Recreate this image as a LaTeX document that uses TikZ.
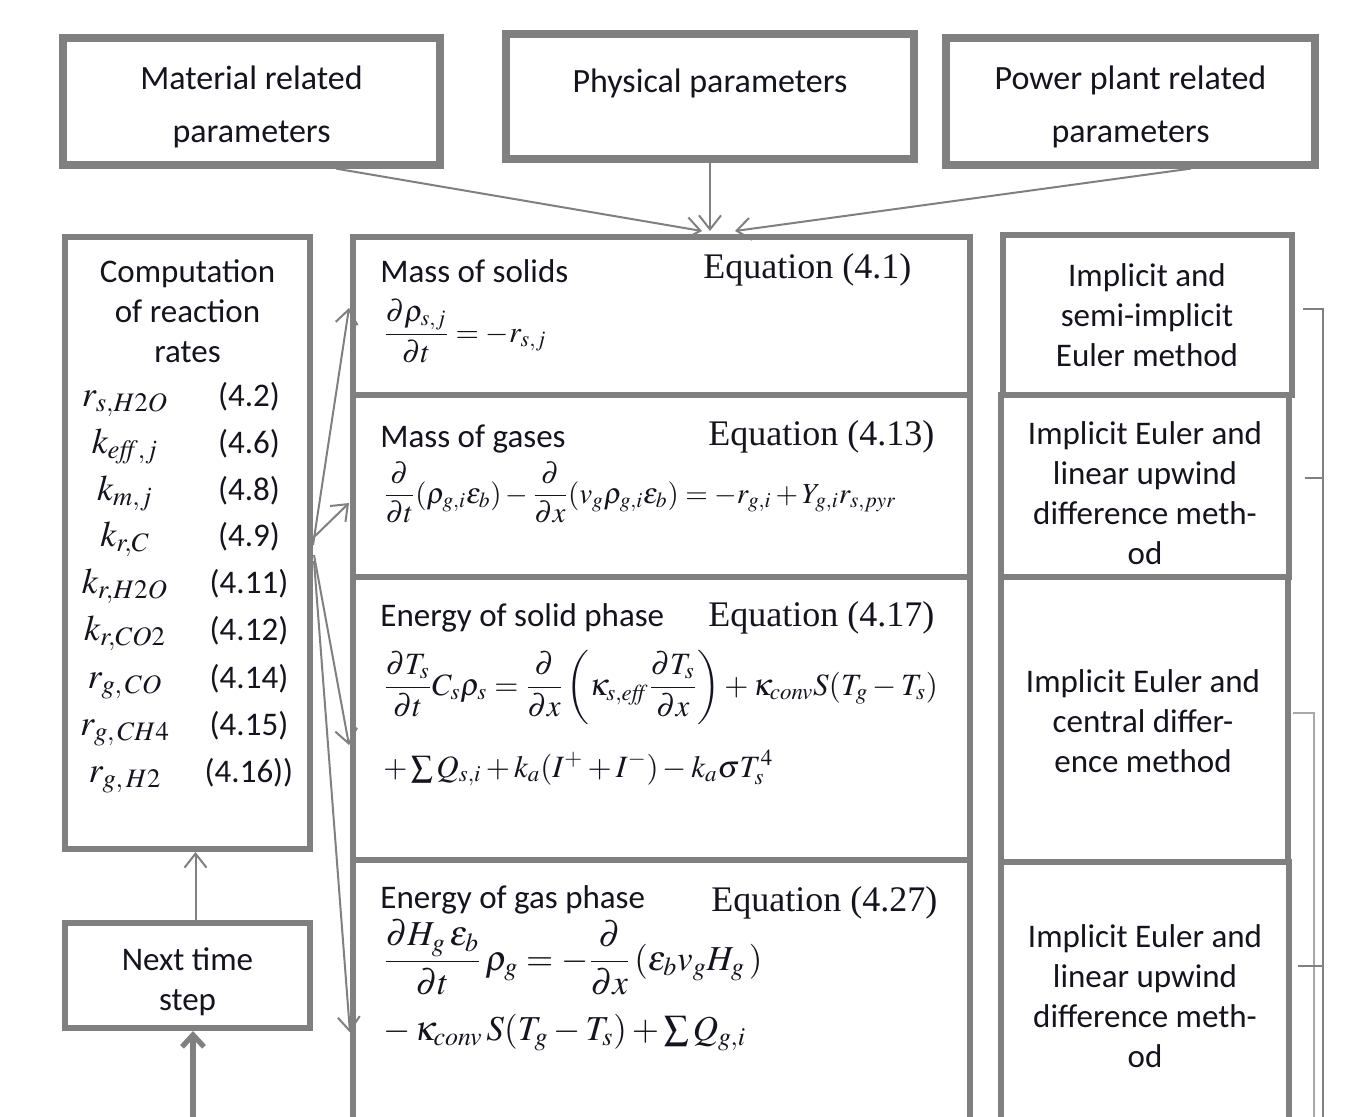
\documentclass[tikz,border=0pt]{standalone}
\usepackage{amsmath}
\usepackage{mathptmx}
\usepackage[no-math]{fontspec}
\setmainfont{Carlito}
\newfontfamily\timesfam{Liberation Serif}
\usetikzlibrary{arrows.meta,calc,fit}
\definecolor{linegray}{RGB}{128,128,128}
\definecolor{lightgray2}{RGB}{168,168,168}
\definecolor{inkc}{RGB}{20,20,30}
\tikzset{
  box/.style={draw=linegray, line width=3pt, fill=white, inner sep=0pt},
  topbox/.style={box, line width=3.6pt},
  lbl/.style={font=\fontsize{16.5}{20}\selectfont, align=center, inner sep=0pt, text=inkc},
  toplbl/.style={font=\fontsize{17}{26.5}\selectfont, align=center, inner sep=0pt, text=inkc},
  eqlbl/.style={font=\timesfam\fontsize{18}{22}\selectfont, inner sep=0pt, anchor=base west, text=inkc},
  eqn/.style={inner sep=0pt, anchor=base west, text=inkc},
  sym/.style={font=\fontsize{18}{20}\selectfont, inner sep=0pt, text=inkc},
  conn/.style={draw=linegray, line width=1pt},
  connlight/.style={draw=lightgray2, line width=1pt},
  arr/.style={conn, -{Straight Barb[length=7pt,width=11pt]}},
  thickarr/.style={draw=linegray, line width=2.6pt, -{Straight Barb[length=6pt,width=11pt]}},
}
\begin{document}
\begin{tikzpicture}[x=0.5pt,y=-0.5pt]
\clip (0,0) rectangle (1345,1116);
\fill[white] (0,0) rectangle (1345,1116);

% top boxes
\node[topbox, fit={(63,38) (440,165)}] (mat) {};
\node[topbox, fit={(506,34) (914,159)}] (phys) {};
\node[topbox, fit={(946,38) (1315,165)}] (pow) {};
\node[toplbl] (matT) at (251.5,106.5) {Material related\\parameters};
\node[toplbl] (phyT) at (710,83) {Physical parameters};
\node[toplbl] (powT) at (1130.5,106.5) {Power plant related\\parameters};

% left column
\node[box, fit={(65,237) (310,849)}] (comp) {};
\node[box, fit={(65,923) (310,1028)}] (next) {};
\node[lbl] (compT) at (187.5,311.5) {Computation\\of reaction\\rates};
\node[lbl] (nextT) at (187.5,981.5) {Next time\\step};
\foreach \s/\n/\y [count=\i] in {
  {$r_{s,H2O}$}/{(4.2)}/406,
  {$k_{\mathit{eff},j}$}/{(4.6)}/453,
  {$k_{m,j}$}/{(4.8)}/500,
  {$k_{r,C}$}/{(4.9)}/546,
  {$k_{r,H2O}$}/{(4.11)}/593,
  {$k_{r,CO2}$}/{(4.12)}/640,
  {$r_{g,\,CO}$}/{(4.14)}/688,
  {$r_{g,\,CH4}$}/{(4.15)}/735,
  {$r_{g,\,H2}$}/{(4.16))}/782}
{
  \node[sym, anchor=base] (sym\i) at (125,\y) {\s};
  \node[lbl, anchor=base] (num\i) at (249,\y) {\n};
}

% middle column
\node[box, fit={(353,237) (970,395)}] (b1) {};
\node[box, fit={(353,395) (970,577)}] (b2) {};
\node[box, fit={(353,577) (970,860)}] (b3) {};
\node[box, fit={(353,860) (970,1140)}] (b4) {};

\node[lbl, anchor=base west] (b1L) at (380,282) {Mass of solids};
\node[eqlbl] (b1E) at (703,278) {Equation (4.1)};
\node[eqn, font=\fontsize{15}{18}\selectfont] (b1Q) at (383,342) {$\dfrac{\partial\rho_{s,j}}{\partial t}=-r_{s,j}$};

\node[lbl, anchor=base west] (b2L) at (380,447) {Mass of gases};
\node[eqlbl] (b2E) at (708,445) {Equation (4.13)};
\node[eqn, font=\fontsize{14.5}{18}\selectfont] (b2Q) at (383,503) {$\dfrac{\partial}{\partial t}(\rho_{g,i}\varepsilon_b)-\dfrac{\partial}{\partial x}(v_g\rho_{g,i}\varepsilon_b)=-r_{g,i}+Y_{g,i}r_{s,pyr}$};

\node[lbl, anchor=base west] (b3L) at (380,626) {Energy of solid phase};
\node[eqlbl] (b3E) at (708,626) {Equation (4.17)};
\node[eqn, font=\fontsize{15.5}{18}\selectfont] (b3Qa) at (383,695) {$\dfrac{\partial T_s}{\partial t}C_s\rho_s=\dfrac{\partial}{\partial x}\left(\kappa_{s,\mathit{eff}}\dfrac{\partial T_s}{\partial x}\right)+\kappa_{\mathit{conv}}S(T_g-T_s)$};
\node[eqn, font=\fontsize{15.5}{18}\selectfont] (b3Qb) at (383,777) {$+\sum Q_{s,i}+k_a(I^+ +I^-)-k_a\sigma T_s^4$};

\node[lbl, anchor=base west] (b4L) at (380,908) {Energy of gas phase};
\node[eqlbl] (b4E) at (711,911) {Equation (4.27)};
\node[eqn, font=\fontsize{17.5}{20}\selectfont] (b4Qa) at (383,970) {$\dfrac{\partial H_g\,\varepsilon_b}{\partial t}\,\rho_g=-\dfrac{\partial}{\partial x}\left(\varepsilon_b v_g H_g\,\right)$};
\node[eqn, font=\fontsize{17.5}{20}\selectfont] (b4Qb) at (383,1040) {$-\,\kappa_{\mathit{conv}}\,S(T_g-T_s)+\sum Q_{g,i}$};

% right column
\node[box, fit={(1003,235) (1292,395)}] (r1) {};
\node[box, fit={(1001,395) (1289,577)}] (r2) {};
\node[box, fit={(1001,577) (1288,862)}] (r3) {};
\node[box, fit={(1001,862) (1289,1140)}] (r4) {};
\node[lbl] (r1T) at (1147,315) {Implicit and\\semi-implicit\\Euler method};
\node[lbl] (r2T) at (1145,493) {Implicit Euler and\\linear upwind\\difference meth-\\od};
\node[lbl] (r3T) at (1143,721) {Implicit Euler and\\central differ-\\ence method};
\node[lbl] (r4T) at (1145,996) {Implicit Euler and\\linear upwind\\difference meth-\\od};

% top arrows
\draw[arr] ($(mat.south west)!0.72!(mat.south east)$) -- ($(b1.north)+(40.5,-3)$);
\draw[arr] (phys.south) -- ($(b1.north)+(48.5,-3)$);
\draw[arr] ($(pow.south west)!0.66!(pow.south east)$) -- ($(b1.north)+(73.5,-3)$);

% left arrows
\draw[arr] ($(comp.east)+(0,2)$) -- ($(b1.west)+(-1,-8)$);
\draw[arr] ($(comp.east)+(1,-6)$) -- ($(b2.west)+(-1,17)$);
\draw[arr] ($(comp.east)+(1,12)$) -- ($(b3.west)+(-1,26.5)$);
\draw[arr] ($(comp.east)+(1,18)$) -- ($(b4.west)+(0,32.5)$);

% time loop
\draw[arr] ([xshift=4pt]next.north) -- ([xshift=4pt]comp.south);
\coordinate (loopin) at (193,1130);
\draw[thickarr] (loopin) -- (loopin |- next.south);

% right brackets
\coordinate (bA) at (1323,1130);
\coordinate (bB) at (1314,1130);
\draw[conn] ($(r1.east)+(8,-6)$) -| (bA);
\draw[conn] ($(r2.east)+(13,-8)$) coordinate (t2) -- (t2 -| bA);
\draw[connlight] ($(r3.east)+(2,-6.5)$) -| (bB);
\draw[conn] ($(r4.east)+(6,-35.5)$) coordinate (t4) -- (t4 -| bA);
\end{tikzpicture}
\end{document}
